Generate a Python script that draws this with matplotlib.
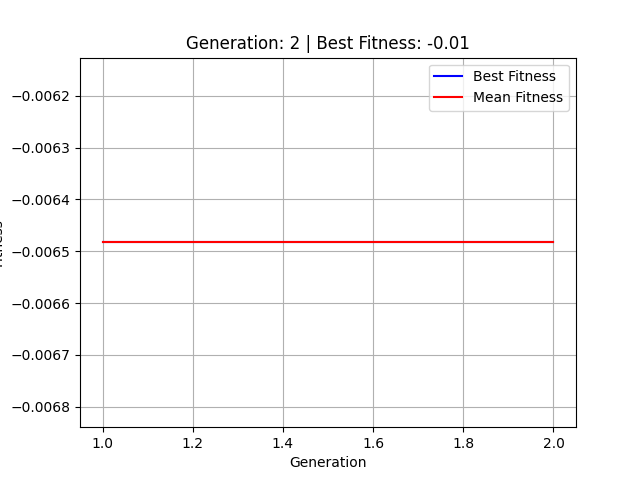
import matplotlib
matplotlib.use("Agg")
import matplotlib.pyplot as plt

generations = [1, 2]
best_fitness = [-0.006483, -0.006483]
mean_fitness = [-0.006483, -0.006483]

fig, ax = plt.subplots(figsize=(6.4, 4.8), dpi=100)
ax.plot(generations, best_fitness, color="blue", label="Best Fitness")
ax.plot(generations, mean_fitness, color="red", label="Mean Fitness")
ax.set_xlabel("Generation")
ax.set_ylabel("Fitness")
ax.set_title("Generation: 2 | Best Fitness: -0.01")
ax.legend()
ax.grid(True)
fig.savefig("out.png")
